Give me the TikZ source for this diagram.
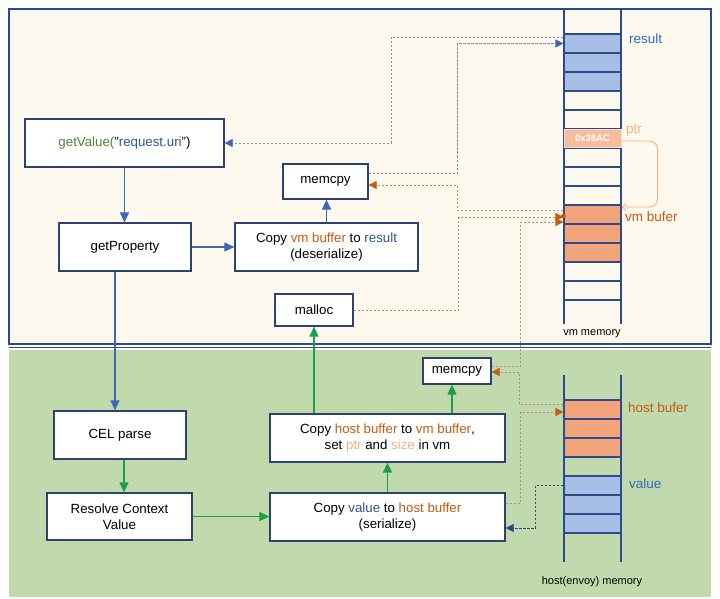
\documentclass[tikz,border=0pt]{standalone}
\usepackage{fontspec}
\setmainfont{Liberation Sans}
\usetikzlibrary{arrows.meta}
\definecolor{cream}{HTML}{FEF9EF}
\definecolor{greenbg}{HTML}{C0D9AD}
\definecolor{navy}{HTML}{2F4A8A}
\definecolor{boxline}{HTML}{2E4170}
\definecolor{arrblue}{HTML}{3F66B8}
\definecolor{arrgreen}{HTML}{1E9E48}
\definecolor{dashblue}{HTML}{7D8CB5}
\definecolor{dashorange}{HTML}{C98A62}
\definecolor{tiporange}{HTML}{C55A11}
\definecolor{memblue}{HTML}{A7BFE5}
\definecolor{memorange}{HTML}{F2A57B}
\definecolor{ptrfill}{HTML}{F5BD9B}
\definecolor{ptrline}{HTML}{F4B183}
\definecolor{txtorange}{HTML}{C55A11}
\definecolor{txtblue}{HTML}{2F5597}
\definecolor{lblblue}{HTML}{2E6DB4}
\definecolor{txtgreen}{HTML}{548235}
\newcommand\bxf{\fontsize{13.3}{16.5}\selectfont}
\newcommand\lbf{\fontsize{13.5}{16}\selectfont}
\newcommand\smf{\fontsize{11}{13}\selectfont}
\begin{document}
\begin{tikzpicture}[x=1pt,y=-1pt,
  box/.style={draw=boxline,line width=1.2pt,fill=white,inner sep=0pt,align=center,font=\bxf},
  cell/.style={draw=navy,line width=1.1pt,minimum width=57pt,minimum height=19pt,inner sep=0pt},
  barrow/.style={draw=arrblue,line width=1.1pt,-{Triangle[length=10pt,width=9pt]}},
  garrow/.style={draw=arrgreen,line width=1.1pt,-{Triangle[length=10pt,width=9pt]}},
  bdash/.style={draw=dashblue,line width=0.7pt,dash pattern=on 2.5pt off 1.5pt,-{Triangle[length=8pt,width=8pt,color=arrblue]}},
  ndash/.style={draw=navy,line width=0.7pt,dash pattern=on 2.5pt off 1.5pt,-{Triangle[length=8pt,width=8pt,color=navy]}},
  odash/.style={draw=dashorange,line width=0.7pt,dash pattern=on 2.5pt off 1.5pt,-{Triangle[length=8pt,width=8pt,color=tiporange]}},
  lbl/.style={anchor=west,font=\lbf,inner sep=0pt}]
\useasboundingbox (0,0) rectangle (720,599);
\fill[white] (0,0) rectangle (720,599);
% panels
\draw[fill=cream,draw=navy,line width=1.3pt] (9,9) rectangle (711,344);
\draw[navy,line width=1pt] (9,347.5) -- (711,347.5);
\fill[greenbg] (9,350) rectangle (711,597);

% vm memory column
\draw[navy,line width=1.2pt] (564,9) -- (564,324) (621,9) -- (621,324);
\node[cell,fill=memblue] (r1) at (592.5,43.5) {};
\node[cell,fill=memblue] (r2) at (592.5,62.5) {};
\node[cell,fill=memblue] (r3) at (592.5,81.5) {};
\node[cell] (w1) at (592.5,100.5) {};
\node[cell] (w2) at (592.5,119.5) {};
\node[cell] (w3) at (592.5,157.5) {};
\node[cell] (w4) at (592.5,176.5) {};
\node[cell] (w5) at (592.5,195.5) {};
\node[cell,fill=memorange] (vb1) at (592.5,214.5) {};
\node[cell,fill=memorange] (vb2) at (592.5,233.5) {};
\node[cell,fill=memorange] (vb3) at (592.5,252.5) {};
\node[cell] (w6) at (592.5,271.5) {};
\node[cell] (w7) at (592.5,290.5) {};
\node[fill=ptrfill,draw=ptrfill!50!white,line width=1pt,minimum width=57pt,minimum height=18pt,inner sep=0pt,text=white,font=\fontsize{9.5}{10}\selectfont\bfseries] (pc) at (592.5,138.5) {0x38AC};
\node[font=\smf] (vmm) at (592,334) {vm memory};
\node[lbl,text=lblblue] (lres) at (629,39) {result};
\node[lbl,text=ptrline] (lptr) at (626,131) {ptr};
\node[lbl,text=txtorange] (lvb) at (625,217) {vm bufer};

% host memory column
\draw[navy,line width=1.2pt] (564,375) -- (564,562) (621,375) -- (621,562);
\node[cell,fill=memorange] (hb1) at (592.5,409.5) {};
\node[cell,fill=memorange] (hb2) at (592.5,428.5) {};
\node[cell,fill=memorange] (hb3) at (592.5,447.5) {};
\node[cell,fill=memblue] (v1) at (592.5,485.5) {};
\node[cell,fill=memblue] (v2) at (592.5,504.5) {};
\node[cell,fill=memblue] (v3) at (592.5,523.5) {};
\node[font=\smf] (hmm) at (592,582) {host(envoy) memory};
\node[lbl,text=txtorange] (lhb) at (628,408) {host bufer};
\node[lbl,text=lblblue] (lval) at (629,484) {value};

% boxes
\node[box,minimum width=199pt,minimum height=48pt] (gv) at (124.5,143)
  {\textcolor{txtgreen}{getValue(}"\textcolor{txtblue}{request.uri}")};
\node[box,minimum width=85pt,minimum height=35pt] (mc1) at (325.5,181.5) {memcpy};
\node[box,minimum width=132pt,minimum height=48pt] (gp) at (125,247) {getProperty};
\node[box,minimum width=183pt,minimum height=48pt] (cvb) at (326.5,247)
  {Copy \textcolor{txtorange}{vm buffer} to \textcolor{txtblue}{result}\\(deserialize)};
\node[box,minimum width=78pt,minimum height=32pt] (ml) at (314,310) {malloc};
\node[box,minimum width=68pt,minimum height=26pt] (mc2) at (457,371) {memcpy};
\node[box,minimum width=132pt,minimum height=48pt] (cel) at (120,435) {CEL parse};
\node[box,minimum width=145pt,minimum height=47pt] (rcv) at (119.5,516.5) {Resolve Context\\Value};
\node[box,minimum width=235pt,minimum height=48pt] (ch) at (387.5,438)
  {Copy \textcolor{txtorange}{host buffer} to \textcolor{txtorange}{vm buffer},\\set \textcolor{ptrline}{ptr} and \textcolor{ptrline}{size} in vm};
\node[box,minimum width=235pt,minimum height=48pt] (cv) at (387.5,517)
  {Copy \textcolor{txtblue}{value} to \textcolor{txtorange}{host buffer}\\(serialize)};

% solid arrows
\draw[barrow] (gv.south) -- (gv.south |- gp.north);
\draw[barrow] (gp.east) -- (cvb.west);
\draw[barrow] (cvb.north) -- (cvb.north |- mc1.south);
\draw[barrow] ([xshift=-10pt]gp.south) -- ([xshift=-5pt]cel.north);
\draw[garrow] ([xshift=4pt]cel.south) -- ([xshift=4pt]cel.south |- rcv.north);
\draw[garrow] (rcv.east) -- (rcv.east -| cv.west);
\draw[garrow] (cv.north) -- (ch.south);
\draw[garrow] (ch.north -| ml.south) -- (ml.south);
\draw[garrow] ([xshift=64.5pt]ch.north) -- ([xshift=64.5pt]ch.north |- mc2.south);

% dashed connectors
\draw[bdash] ([yshift=8.5pt]mc1.east) -- ++(89,0) |- (r1.west);
\draw[bdash] ([yshift=6.5pt]r1.west) -- ++(-172,0) |- (gv.east);
\draw[odash] ([yshift=4.5pt]vb1.west) -- ++(-106,0) |- ([yshift=-3.5pt]mc1.east);
\draw[odash] (ml.east) -- ++(105,0) |- ([yshift=-2.5pt]vb1.west);
\fill[tiporange] ([yshift=-1.5pt]vb1.west) circle (2.4pt);
\draw[odash] ([yshift=5pt]mc2.east) -- ++(29,0) |- ([yshift=-7.5pt]vb1.west);
\draw[odash] ([yshift=5.5pt]hb1.west) -- ++(-44,0) |- ([yshift=-1pt]mc2.east);
\draw[odash] ([yshift=14pt]cv.east) -- ++(15,0) |- ([yshift=-2.5pt]hb1.west);
\draw[ndash] (v1.west) -- ++(-28,0) |- ([yshift=-11pt]cv.east);
\draw[ptrline,line width=0.9pt,rounded corners=8pt,-{Straight Barb[length=4pt,width=7pt]}] ([yshift=-2.5pt]pc.east) -- ++(36,0) |- ([yshift=7.5pt]vb1.east);
\end{tikzpicture}
\end{document}
